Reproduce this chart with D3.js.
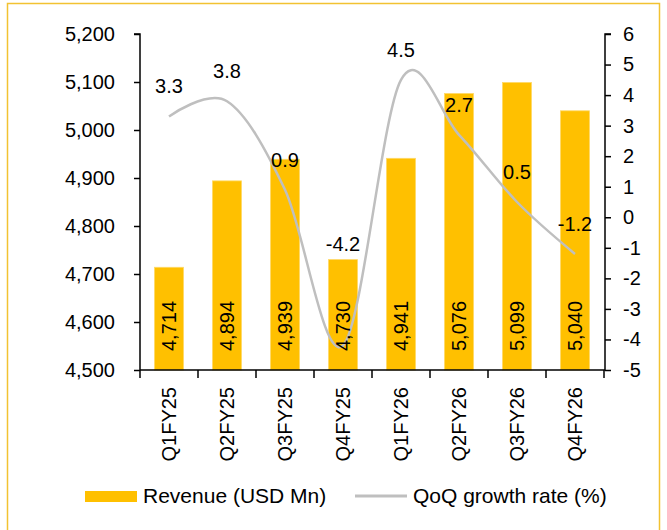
<!DOCTYPE html>
<html>
<head>
<meta charset="utf-8">
<script src="https://cdn.jsdelivr.net/npm/d3@7"></script>
<style>
  html, body { margin: 0; padding: 0; background: #fff; }
  svg { display: block; font-family: "Liberation Sans", Arial, sans-serif; }
</style>
</head>
<body>
<svg id="chart" width="667" height="530"></svg>
<script>
// ---- data ----
const categories = ["Q1FY25", "Q2FY25", "Q3FY25", "Q4FY25", "Q1FY26", "Q2FY26", "Q3FY26", "Q4FY26"];
const revenue = [4714, 4894, 4939, 4730, 4941, 5076, 5099, 5040];
const growth = [3.3, 3.8, 0.9, -4.2, 4.5, 2.7, 0.5, -1.2];
const leftTicks = [4500, 4600, 4700, 4800, 4900, 5000, 5100, 5200];
const rightTicks = [-5, -4, -3, -2, -1, 0, 1, 2, 3, 4, 5, 6];
const seriesNames = ["Revenue (USD Mn)", "QoQ growth rate (%)"];

// ---- layout / style ----
const plot = { left: 140, right: 604, top: 34, bottom: 370 };
const barColor = "#FFC000";
const lineColor = "#BFBFBF";
const fontSize = 20;
const labelNudge = { "Q4FY25": -72 }; // manually placed label in source

const svg = d3.select("#chart");

// outer frame
svg.append("rect")
  .attr("x", 7.5).attr("y", 3.5).attr("width", 652).attr("height", 560)
  .attr("fill", "none").attr("stroke", "#F2C232").attr("stroke-width", 1.5);

const x = d3.scaleBand().domain(categories)
  .range([plot.left, plot.right]).paddingInner(0.5).paddingOuter(0.25);
const yL = d3.scaleLinear().domain([4500, 5200]).range([plot.bottom, plot.top]);
const yR = d3.scaleLinear().domain([-5, 6]).range([plot.bottom, plot.top]);
const cx = c => x(c) + x.bandwidth() / 2;

// bars
svg.append("g").selectAll("rect").data(categories).join("rect")
  .attr("x", c => x(c))
  .attr("y", (c, i) => yL(revenue[i]))
  .attr("width", x.bandwidth())
  .attr("height", (c, i) => yL(4500) - yL(revenue[i]))
  .attr("fill", barColor)
  .attr("stroke", "#FFD966").attr("stroke-width", 0.8);

// left axis
const axL = svg.append("g").attr("transform", `translate(${plot.left},0)`)
  .call(d3.axisLeft(yL).tickValues(leftTicks).tickFormat(d3.format(",")).tickSize(6).tickPadding(19));
axL.select(".domain").attr("stroke", "#000").attr("stroke-width", 1.5).attr("d", `M-6,${plot.top}H0V${plot.bottom}`);
axL.selectAll(".tick line").attr("stroke", "#000").attr("stroke-width", 1.5);
axL.selectAll(".tick text").attr("font-size", fontSize).attr("font-family", "Liberation Sans, Arial, sans-serif").attr("fill", "#000");

// right axis
const axR = svg.append("g").attr("transform", `translate(${plot.right + 1},0)`)
  .call(d3.axisRight(yR).tickValues(rightTicks).tickFormat(d => String(d)).tickSize(6).tickPadding(12));
axR.select(".domain").attr("stroke", "#000").attr("stroke-width", 1.5).attr("d", `M6,${plot.top}H0V${plot.bottom}`);
axR.selectAll(".tick line").attr("stroke", "#000").attr("stroke-width", 1.5);
axR.selectAll(".tick text").attr("font-size", fontSize).attr("font-family", "Liberation Sans, Arial, sans-serif").attr("fill", "#000");

// bottom axis
const step = x.step();
const bottom = svg.append("g");
bottom.append("line")
  .attr("x1", plot.left).attr("x2", plot.right + 1)
  .attr("y1", plot.bottom).attr("y2", plot.bottom)
  .attr("stroke", "#000").attr("stroke-width", 1.5);
bottom.selectAll("line.tk").data(d3.range(categories.length + 1)).join("line")
  .attr("class", "tk")
  .attr("x1", i => plot.left + i * step).attr("x2", i => plot.left + i * step)
  .attr("y1", plot.bottom).attr("y2", plot.bottom + 8)
  .attr("stroke", "#000").attr("stroke-width", 1.5);
bottom.selectAll("text").data(categories).join("text")
  .attr("transform", c => `translate(${cx(c)},${plot.bottom + 17}) rotate(-90)`)
  .attr("dy", "0.35em")
  .attr("text-anchor", "end")
  .attr("font-size", fontSize)
  .attr("fill", "#000")
  .text(c => c);

// growth line (smoothed)
const line = d3.line()
  .x((d, i) => cx(categories[i]))
  .y(d => yR(d))
  .curve(d3.curveCardinal.tension(0));
svg.append("path").datum(growth)
  .attr("d", line)
  .attr("fill", "none")
  .attr("stroke", lineColor)
  .attr("stroke-width", 2.5);

// bar labels (rotated, inside base) - drawn above the line
svg.append("g").selectAll("text").data(categories).join("text")
  .attr("transform", c => `translate(${cx(c)},${plot.bottom - 19}) rotate(-90)`)
  .attr("dy", "0.35em")
  .attr("text-anchor", "start")
  .attr("font-size", fontSize)
  .attr("fill", "#000")
  .text((c, i) => d3.format(",")(revenue[i]));

// growth labels
svg.append("g").selectAll("text").data(categories).join("text")
  .attr("x", c => cx(c))
  .attr("y", (c, i) => yR(growth[i]) - 30 + (labelNudge[c] || 0))
  .attr("dy", "0.35em")
  .attr("text-anchor", "middle")
  .attr("font-size", fontSize)
  .attr("fill", "#000")
  .text((c, i) => growth[i].toFixed(1));

// legend
const lg = svg.append("g");
lg.append("rect").attr("x", 85).attr("y", 491).attr("width", 52).attr("height", 11).attr("fill", barColor);
lg.append("text").attr("x", 143).attr("y", 496).attr("dy", "0.35em")
  .attr("font-size", 21).attr("fill", "#000").text(seriesNames[0]);
lg.append("line").attr("x1", 355).attr("x2", 407).attr("y1", 496).attr("y2", 496)
  .attr("stroke", lineColor).attr("stroke-width", 3);
lg.append("text").attr("x", 413).attr("y", 496).attr("dy", "0.35em")
  .attr("font-size", 21).attr("fill", "#000").text(seriesNames[1]);
</script>
</body>
</html>
